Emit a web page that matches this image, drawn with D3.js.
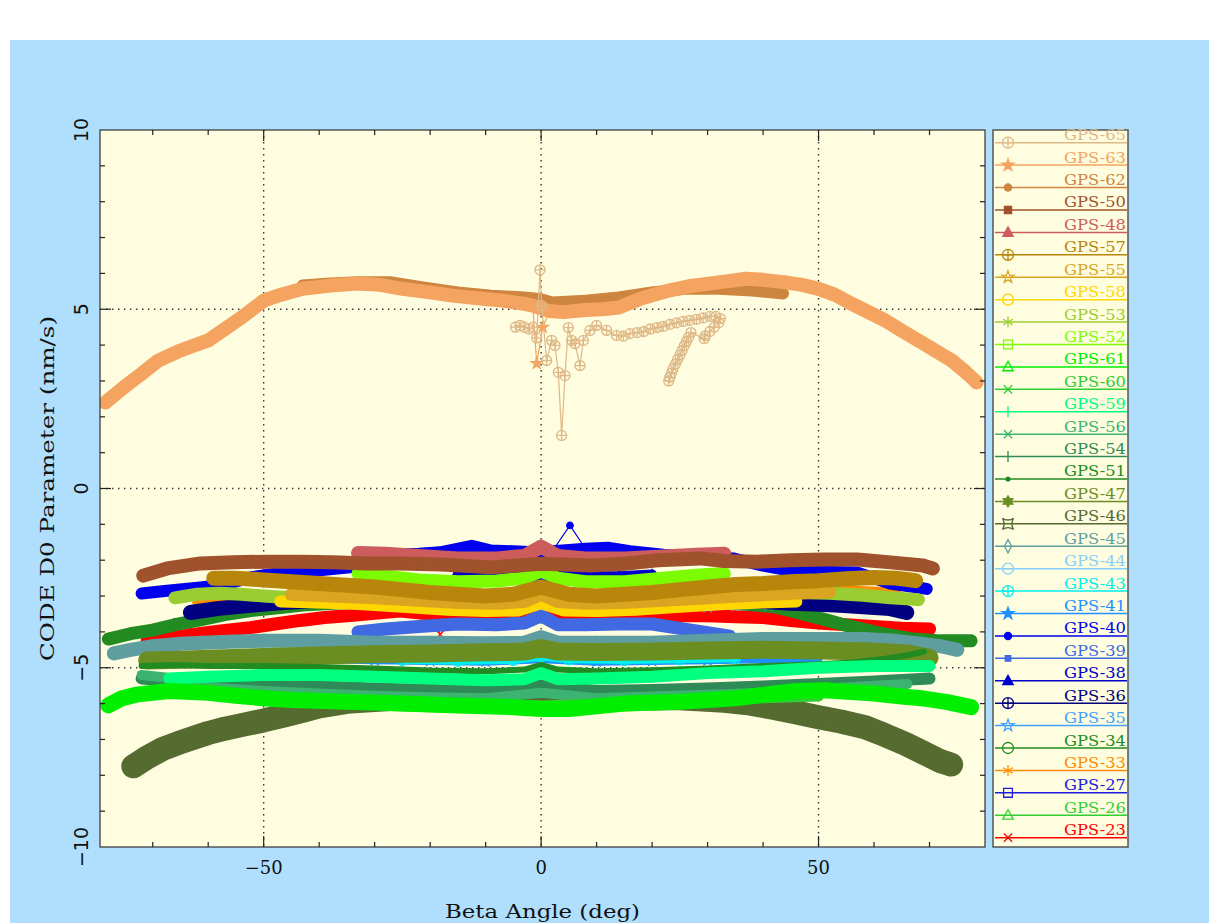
<!DOCTYPE html>
<html>
<head>
<meta charset="utf-8">
<script src="https://cdn.jsdelivr.net/npm/d3@7"></script>
<style>
  body { margin: 0; background: #fff; }
  svg { display: block; }
</style>
</head>
<body>
<div id="chart"></div>
<script>
// legend order, top to bottom
const seriesNames = ["GPS-65","GPS-63","GPS-62","GPS-50","GPS-48","GPS-57","GPS-55","GPS-58","GPS-53","GPS-52",
  "GPS-61","GPS-60","GPS-59","GPS-56","GPS-54","GPS-51","GPS-47","GPS-46","GPS-45","GPS-44","GPS-43","GPS-41",
  "GPS-40","GPS-39","GPS-38","GPS-36","GPS-35","GPS-34","GPS-33","GPS-27","GPS-26","GPS-23"];

const xTicks = [-50, 0, 50];
const yTicks = [-10, -5, 0, 5, 10];

// [beta angle, D0 value]
const gps65 = [[-4.6,4.5],[-3.8,4.55],[-3.0,4.5],[-2.2,4.45],[-1.4,4.5],[-0.8,4.2],[-0.2,6.1],[0.1,5.1],[1.0,3.57],
  [1.9,4.13],[2.5,3.99],[3.1,3.24],[3.7,1.48],[4.3,3.15],[4.9,4.49],[5.5,4.13],[6.1,4.04],[7.0,3.43],[7.6,4.13],
  [8.8,4.41],[10.0,4.55],[11.8,4.41],[13.6,4.27],[14.8,4.25],[16,4.32],[17.3,4.35],[18.5,4.38],[19.7,4.45],
  [20.9,4.49],[22,4.52],[23.2,4.58],[24.4,4.62],[25.6,4.66],[26.8,4.69],[28,4.72],[29.2,4.76],[30.4,4.8],
  [31.5,4.8],[32.3,4.74],[32,4.62],[31.2,4.5],[30.4,4.38],[29.6,4.26],[29.4,4.18],[27,4.35],[26.6,4.22],
  [26.2,4.1],[25.8,3.98],[25.4,3.85],[25,3.72],[24.6,3.6],[24.2,3.47],[23.8,3.35],[23.5,3.22],[23.2,3.1],[23,3.0]];
const gps63 = [[-78.5,2.4],[-75,2.85],[-72,3.2],[-69,3.57],[-65,3.85],[-60,4.13],[-57,4.45],[-54,4.77],[-50,5.24],
  [-47,5.4],[-43,5.57],[-38,5.66],[-33,5.72],[-29,5.68],[-25,5.57],[-20,5.47],[-16,5.38],[-11,5.3],[-7,5.24],
  [-3,5.15],[-1.5,5.1],[1.5,4.95],[4,4.92],[8,4.98],[11,5.0],[14,5.05],[18,5.3],[23,5.52],[27,5.65],[32,5.75],
  [37,5.85],[40,5.82],[44,5.75],[47,5.68],[50,5.57],[53,5.4],[56,5.15],[59,4.92],[62,4.69],[65,4.4],[68,4.13],
  [71,3.85],[74,3.57],[76.5,3.25],[78.5,2.96]];
const gps63Spikes = [[-0.8,3.49],[0.3,4.5]];
const gps62 = [[-43,5.66],[-38,5.72],[-33,5.75],[-27,5.75],[-21,5.6],[-15,5.47],[-9,5.38],[-3,5.33],[0,5.28],
  [2,5.19],[8,5.24],[14,5.33],[20,5.47],[26,5.57],[32,5.57],[38,5.52],[43.6,5.44]];
const gps50 = [[-71.7,-2.43],[-67.4,-2.23],[-61.4,-2.09],[-55.5,-2.06],[-49.4,-2.04],[-43.4,-2.04],[-37.5,-2.06],
  [-31.4,-2.09],[-25.4,-2.09],[-18,-2.12],[-9,-2.2],[0,-2.1],[9,-2.15],[15,-2.1],[21,-2.0],[28.6,-1.95],[33,-2.02],
  [39,-2.04],[45,-2.0],[51,-1.98],[57,-1.98],[63,-2.06],[68.8,-2.15],[70.6,-2.23]];
const gps48 = [[-33,-1.8],[-28,-1.82],[-22,-1.88],[-15,-1.95],[-8,-1.95],[-3,-1.88],[0,-1.62],[3,-1.88],[8,-1.95],
  [15,-1.95],[22,-1.9],[28,-1.85],[33,-1.82]];
const gps57 = [[-59,-2.5],[-55,-2.5],[-50,-2.55],[-45,-2.6],[-40,-2.65],[-35,-2.7],[-30,-2.75],[-25,-2.82],[-20,-2.9],
  [-15,-2.95],[-10,-3.0],[-5,-2.95],[0,-2.75],[5,-2.95],[10,-3.0],[15,-2.95],[20,-2.9],[25,-2.82],[30,-2.75],
  [35,-2.68],[40,-2.65],[45,-2.6],[50,-2.57],[55,-2.52],[60,-2.48],[64,-2.5],[67.5,-2.57]];
const gps55 = [[-45,-2.95],[-38,-3.0],[-30,-3.05],[-22,-3.12],[-15,-3.18],[-8,-3.2],[-3,-3.15],[0,-2.95],[3,-3.15],
  [8,-3.2],[15,-3.18],[22,-3.12],[30,-3.05],[38,-2.98],[45,-2.92],[52,-2.88]];
const gps58 = [[-47,-3.15],[-40,-3.18],[-33,-3.22],[-25,-3.3],[-17,-3.38],[-10,-3.42],[-4,-3.4],[0,-3.2],[4,-3.4],
  [10,-3.42],[17,-3.38],[25,-3.3],[33,-3.22],[40,-3.18],[46,-3.15]];
const gps53 = [[-66,-3.05],[-62,-2.95],[-58,-2.92],[-54,-2.95],[-50,-3.0],[-45,-3.05],[-40,-3.05],[-30,-3.05],
  [-20,-3.05],[-10,-3.05],[0,-2.9],[10,-3.05],[20,-3.05],[30,-3.0],[40,-2.92],[46,-2.9],[52,-2.92],[58,-2.98],
  [63,-3.05],[68,-3.1]];
const gps52 = [[-33,-2.37],[-28,-2.45],[-22,-2.55],[-15,-2.6],[-8,-2.58],[-3,-2.5],[0,-2.3],[3,-2.5],[8,-2.6],
  [15,-2.6],[22,-2.5],[28,-2.42],[33,-2.37]];
const gps61 = [[-78,-6.05],[-75.5,-5.85],[-73,-5.75],[-67,-5.65],[-60,-5.7],[-55,-5.78],[-50,-5.85],[-45,-5.9],
  [-35,-5.95],[-25,-6.0],[-15,-6.05],[-5,-6.1],[0,-6.15],[5,-6.15],[15,-6.0],[25,-5.95],[35,-5.85],[42,-5.72],
  [46,-5.65],[51,-5.63],[56,-5.68],[60,-5.72],[65,-5.8],[69,-5.86],[73,-5.95],[77.5,-6.1]];
const gps60 = [[-50,-5.85],[-40,-5.92],[-30,-5.95],[-20,-5.98],[-10,-6.0],[0,-6.05],[10,-6.0],[20,-5.95],[30,-5.9],
  [40,-5.85],[50,-5.8]];
const gps59 = [[-67,-5.3],[-60,-5.25],[-50,-5.2],[-40,-5.2],[-30,-5.25],[-20,-5.3],[-10,-5.35],[-3,-5.32],[0,-5.15],
  [3,-5.32],[10,-5.3],[20,-5.25],[30,-5.15],[40,-5.1],[50,-5.0],[60,-4.95],[70,-4.95]];
const gps56 = [[-72,-5.2],[-66,-5.3],[-60,-5.55],[-50,-5.65],[-40,-5.72],[-30,-5.78],[-20,-5.82],[-10,-5.85],
  [0,-5.7],[10,-5.85],[20,-5.8],[30,-5.75],[40,-5.7],[50,-5.6],[60,-5.5],[66,-5.45]];
const gps54 = [[-72,-5.3],[-66,-5.38],[-60,-5.42],[-50,-5.48],[-40,-5.52],[-30,-5.58],[-20,-5.62],[-10,-5.65],
  [0,-5.5],[10,-5.65],[20,-5.62],[30,-5.58],[40,-5.52],[50,-5.45],[60,-5.38],[70,-5.3]];
const gps51 = [[-72,-4.95],[-66,-4.92],[-60,-4.95],[-50,-4.95],[-40,-4.98],[-30,-5.02],[-20,-5.08],[-10,-5.1],
  [-3,-5.05],[0,-4.92],[3,-5.05],[10,-5.1],[20,-5.07],[30,-5.02],[40,-4.95],[50,-4.9],[56,-4.85],[62,-4.75],
  [66,-4.65],[69,-4.55]];
const gps47 = [[-71,-4.8],[-65,-4.78],[-60,-4.75],[-50,-4.7],[-40,-4.66],[-30,-4.62],[-20,-4.6],[-10,-4.57],
  [-3,-4.55],[0,-4.45],[3,-4.55],[10,-4.56],[20,-4.55],[30,-4.52],[40,-4.5],[50,-4.52],[60,-4.55],[66,-4.6],[70,-4.72]];
const gps46 = [[-73.5,-7.75],[-71,-7.5],[-68,-7.25],[-65,-7.08],[-62,-6.92],[-60,-6.82],[-57,-6.7],[-54,-6.6],
  [-50,-6.47],[-46,-6.32],[-43,-6.2],[-40,-6.08],[-35,-5.95],[-25,-5.85],[-15,-5.85],[-5,-5.9],[0,-5.95],[5,-5.9],
  [15,-5.85],[25,-5.85],[33,-5.92],[37.7,-6.0],[42,-6.12],[46,-6.25],[50,-6.38],[54,-6.5],[58.4,-6.66],
  [62,-6.88],[65.6,-7.12],[69,-7.38],[71.9,-7.6],[73.9,-7.7]];
const gps45 = [[-77,-4.6],[-74,-4.5],[-70,-4.4],[-65,-4.33],[-61,-4.3],[-55,-4.27],[-50,-4.25],[-40,-4.25],
  [-30,-4.3],[-20,-4.3],[-10,-4.32],[-3,-4.3],[0,-4.15],[3,-4.3],[10,-4.3],[20,-4.3],[30,-4.25],[40,-4.2],
  [50,-4.2],[58,-4.2],[64,-4.25],[68,-4.32],[72,-4.4],[75,-4.5]];
const gps44 = [[-40,-4.35],[-30,-4.35],[-20,-4.38],[-10,-4.4],[0,-4.25],[10,-4.4],[20,-4.38],[30,-4.35],[40,-4.32]];
const gps43 = [[-25,-4.8],[-15,-4.82],[-5,-4.8],[0,-4.7],[5,-4.78],[15,-4.8],[25,-4.78],[35,-4.75]];
const gps43Spikes = [[-0.7,-4.15]];
const gps41 = [[-47,-4.75],[-40,-4.75],[-30,-4.78],[-20,-4.8],[-10,-4.82],[0,-4.75],[10,-4.82],[20,-4.8],
  [30,-4.78],[40,-4.75],[50,-4.72]];
const gps40 = [[-72,-2.93],[-67.4,-2.85],[-61.4,-2.76],[-57,-2.68],[-52.4,-2.48],[-46.5,-2.34],[-40.4,-2.29],
  [-34.4,-2.2],[-27.2,-1.85],[-22,-1.82],[-18.2,-1.78],[-12.5,-1.6],[-9,-1.73],[-5,-1.75],[-1.4,-1.78],[2,-1.75],
  [8,-1.68],[12,-1.65],[16,-1.75],[22,-1.85],[28,-1.9],[34.6,-1.95],[40,-2.15],[44.9,-2.29],[50,-2.32],
  [56.9,-2.34],[60,-2.5],[62.9,-2.65],[66,-2.72],[69.5,-2.8]];
const gps40Spikes = [[5.2,-1.03]];
const gps39 = [[-33,-4.0],[-28,-3.92],[-22,-3.85],[-15,-3.78],[-8,-3.8],[-3,-3.75],[0,-3.55],[3,-3.8],[8,-3.8],
  [14,-3.78],[20,-3.78],[25,-3.9],[30,-4.02],[34,-4.12]];
const gps38 = [[-15,-2.3],[-8,-2.35],[-3,-2.4],[0,-2.3],[3,-2.4],[8,-2.45],[14,-2.45],[20,-2.4]];
const gps36 = [[-63.2,-3.46],[-58.4,-3.35],[-52.4,-3.26],[-46.5,-3.18],[-40,-3.12],[-30,-3.1],[-15,-3.1],[0,-3.05],
  [15,-3.1],[30,-3.12],[40,-3.15],[44.9,-3.2],[49,-3.22],[53.9,-3.26],[58,-3.3],[62.9,-3.35],[65.9,-3.46]];
const gps35 = [[-20,-3.35],[-10,-3.35],[0,-3.25],[10,-3.35],[20,-3.35],[30,-3.3],[35,-3.26],[41,-3.25]];
const gps34 = [[-78,-4.2],[-74,-4.05],[-70,-3.95],[-66,-3.8],[-61,-3.65],[-57,-3.52],[-52,-3.4],[-47,-3.32],
  [-43,-3.25],[-35,-3.18],[-25,-3.15],[-15,-3.15],[0,-3.1],[15,-3.15],[25,-3.15],[35,-3.2],[42,-3.3],[46,-3.45],
  [51,-3.65],[55,-3.82],[60,-4.0],[64,-4.12],[67,-4.2],[72,-4.25],[77.5,-4.25]];
const gps33 = [[-62,-3.15],[-58,-3.12],[-54,-3.1],[-48,-3.05],[-40,-3.05],[-30,-3.05],[0,-3.0],[30,-2.95],
  [45,-2.9],[50,-2.85],[56,-2.85],[61,-2.88],[64,-2.9]];
const gps27 = [[-30,-2.5],[-20,-2.55],[-10,-2.6],[0,-2.45],[10,-2.6],[20,-2.55],[30,-2.5]];
const gps26 = [[-40,-6.0],[-30,-6.05],[-20,-6.1],[-10,-6.12],[0,-6.2],[10,-6.1],[20,-6.05],[30,-6.0],[40,-5.95]];
const gps23 = [[-71,-4.25],[-66,-4.15],[-61.4,-4.04],[-57,-3.96],[-52.4,-3.88],[-48,-3.78],[-43.4,-3.68],[-39,-3.6],
  [-34.4,-3.54],[-30,-3.48],[-25.4,-3.42],[-20,-3.5],[-15,-3.55],[-10,-3.55],[-5,-3.55],[-2,-3.5],[0,-3.4],
  [2,-3.55],[5,-3.65],[10,-3.58],[15,-3.55],[20,-3.55],[25,-3.55],[30,-3.55],[35,-3.58],[40,-3.6],[45,-3.68],
  [50,-3.75],[55,-3.8],[60,-3.85],[65,-3.9],[70,-3.92]];
const gps23Spikes = [[-65.6,-3.72],[-18.2,-4.07]];

const seriesData = new Map([
  ["GPS-65", gps65], ["GPS-63", gps63], ["GPS-62", gps62], ["GPS-50", gps50], ["GPS-48", gps48],
  ["GPS-57", gps57], ["GPS-55", gps55], ["GPS-58", gps58], ["GPS-53", gps53], ["GPS-52", gps52],
  ["GPS-61", gps61], ["GPS-60", gps60], ["GPS-59", gps59], ["GPS-56", gps56], ["GPS-54", gps54],
  ["GPS-51", gps51], ["GPS-47", gps47], ["GPS-46", gps46], ["GPS-45", gps45], ["GPS-44", gps44],
  ["GPS-43", gps43], ["GPS-41", gps41], ["GPS-40", gps40], ["GPS-39", gps39], ["GPS-38", gps38],
  ["GPS-36", gps36], ["GPS-35", gps35], ["GPS-34", gps34], ["GPS-33", gps33], ["GPS-27", gps27],
  ["GPS-26", gps26], ["GPS-23", gps23]
]);
const seriesSpikes = new Map([
  ["GPS-63", gps63Spikes], ["GPS-43", gps43Spikes], ["GPS-40", gps40Spikes], ["GPS-23", gps23Spikes]
]);

// colour, marker, band thickness (px)
const styles = {
  "GPS-65": { color: "#deb887", marker: "oplus", band: 0 },
  "GPS-63": { color: "#f4a460", marker: "star", band: 14 },
  "GPS-62": { color: "#cd853f", marker: "dot", band: 12 },
  "GPS-50": { color: "#a0522d", marker: "square", band: 14 },
  "GPS-48": { color: "#cd5c5c", marker: "triangle", band: 14 },
  "GPS-57": { color: "#b8860b", marker: "oplus", band: 15 },
  "GPS-55": { color: "#daa520", marker: "ostar", band: 13 },
  "GPS-58": { color: "#ffd700", marker: "ocircle", band: 12 },
  "GPS-53": { color: "#9acd32", marker: "asterisk", band: 13 },
  "GPS-52": { color: "#7cfc00", marker: "osquare", band: 13 },
  "GPS-61": { color: "#00ee00", marker: "otriangle", band: 16 },
  "GPS-60": { color: "#32cd32", marker: "x", band: 10 },
  "GPS-59": { color: "#00ff7f", marker: "vbar", band: 12 },
  "GPS-56": { color: "#3cb371", marker: "x", band: 10 },
  "GPS-54": { color: "#2e8b57", marker: "vbar", band: 12 },
  "GPS-51": { color: "#228b22", marker: "smalldot", band: 6 },
  "GPS-47": { color: "#6b8e23", marker: "hexagram", band: 18 },
  "GPS-46": { color: "#556b2f", marker: "concave", band: 24 },
  "GPS-45": { color: "#5f9ea0", marker: "odiamond", band: 14 },
  "GPS-44": { color: "#87cefa", marker: "ominus", band: 8 },
  "GPS-43": { color: "#00eeee", marker: "oplus", band: 7 },
  "GPS-41": { color: "#1e90ff", marker: "star", band: 9 },
  "GPS-40": { color: "#0000ee", marker: "dot", band: 12 },
  "GPS-39": { color: "#4169e1", marker: "smallsquare", band: 13 },
  "GPS-38": { color: "#0000cd", marker: "triangle", band: 10 },
  "GPS-36": { color: "#000080", marker: "oplus", band: 15 },
  "GPS-35": { color: "#40a0ff", marker: "ostar", band: 8 },
  "GPS-34": { color: "#228b22", marker: "ocircle", band: 13 },
  "GPS-33": { color: "#ff8c00", marker: "asterisk", band: 10 },
  "GPS-27": { color: "#1c1cdc", marker: "osquare", band: 10 },
  "GPS-26": { color: "#32cd32", marker: "otriangle", band: 10 },
  "GPS-23": { color: "#ff0000", marker: "x", band: 13 }
};

const W = 1209, H = 923;
const plot = { left: 100, right: 985, top: 130, bottom: 847 };
const legendBox = { left: 993, right: 1128 };

const svg = d3.select("#chart").append("svg")
  .attr("width", W).attr("height", H);

svg.append("rect").attr("x", 10).attr("y", 40).attr("width", W - 10).attr("height", H - 40)
  .attr("fill", "#afdffc");

const x = d3.scaleLinear().domain([-79.5, 80]).range([plot.left, plot.right]);
const y = d3.scaleLinear().domain([-10, 10]).range([plot.bottom, plot.top]);

svg.append("rect")
  .attr("x", plot.left).attr("y", plot.top)
  .attr("width", plot.right - plot.left).attr("height", plot.bottom - plot.top)
  .attr("fill", "#fffde0");

svg.append("clipPath").attr("id", "plotclip").append("rect")
  .attr("x", plot.left).attr("y", plot.top)
  .attr("width", plot.right - plot.left).attr("height", plot.bottom - plot.top);

// dotted grid
const grid = svg.append("g").attr("stroke", "#333").attr("stroke-width", 1.4)
  .attr("stroke-dasharray", "1.4 4.6");
grid.selectAll("line.gx").data(xTicks).join("line")
  .attr("x1", d => x(d)).attr("x2", d => x(d)).attr("y1", plot.top).attr("y2", plot.bottom);
grid.selectAll("line.gy").data([-5, 0, 5]).join("line")
  .attr("y1", d => y(d)).attr("y2", d => y(d)).attr("x1", plot.left).attr("x2", plot.right);

// markers
function circlePath(r) {
  return `M${-r},0A${r},${r} 0 1,0 ${r},0A${r},${r} 0 1,0 ${-r},0Z`;
}
function starPath(ro, ri) {
  let s = "";
  for (let k = 0; k < 10; k++) {
    const a = -Math.PI / 2 + k * Math.PI / 5;
    const rr = k % 2 ? ri : ro;
    s += (k ? "L" : "M") + (rr * Math.cos(a)).toFixed(2) + "," + (rr * Math.sin(a)).toFixed(2);
  }
  return s + "Z";
}
function markerShape(type, r) {
  const c = 0.87 * r, h = 0.5 * r;
  switch (type) {
    case "oplus": return { d: circlePath(r) + `M${-r},0H${r}M0,${-r}V${r}`, fill: false };
    case "ominus": return { d: circlePath(r) + `M${-r},0H${r}`, fill: false };
    case "ocircle": return { d: circlePath(r), fill: false };
    case "dot": return { d: circlePath(r * 0.65), fill: true };
    case "smalldot": return { d: circlePath(r * 0.35), fill: true };
    case "square": { const s = r * 0.65; return { d: `M${-s},${-s}H${s}V${s}H${-s}Z`, fill: true }; }
    case "smallsquare": { const s = r * 0.5; return { d: `M${-s},${-s}H${s}V${s}H${-s}Z`, fill: true }; }
    case "osquare": { const s = r * 0.8; return { d: `M${-s},${-s}H${s}V${s}H${-s}Z`, fill: false }; }
    case "triangle": return { d: `M0,${-r}L${r * 0.95},${r * 0.7}L${-r * 0.95},${r * 0.7}Z`, fill: true };
    case "otriangle": return { d: `M0,${-r}L${r * 0.95},${r * 0.7}L${-r * 0.95},${r * 0.7}Z`, fill: false };
    case "star": return { d: starPath(r * 1.15, r * 0.45), fill: true };
    case "ostar": return { d: starPath(r * 1.15, r * 0.45), fill: false };
    case "asterisk": return { d: `M0,${-r}V${r}M${-c},${-h}L${c},${h}M${-c},${h}L${c},${-h}`, fill: false };
    case "x": { const s = r * 0.75; return { d: `M${-s},${-s}L${s},${s}M${-s},${s}L${s},${-s}`, fill: false }; }
    case "vbar": return { d: `M0,${-r}V${r}`, fill: false };
    case "hexagram": return { d: `M0,${-r}L${c},${h}L${-c},${h}ZM0,${r}L${-c},${-h}L${c},${-h}Z`, fill: true };
    case "concave": return { d: `M${-r},${-r}Q0,${-r * 0.4} ${r},${-r}Q${r * 0.4},0 ${r},${r}Q0,${r * 0.4} ${-r},${r}Q${-r * 0.4},0 ${-r},${-r}Z`, fill: false };
    case "odiamond": return { d: `M0,${-r * 1.2}L${r * 0.65},0L0,${r * 1.2}L${-r * 0.65},0Z`, fill: false };
  }
  return { d: circlePath(r), fill: false };
}

const line = d3.line().x(d => x(d[0])).y(d => y(d[1]));
const plotArea = svg.append("g").attr("clip-path", "url(#plotclip)");

// plotted from the bottom of the legend upward
seriesNames.slice().reverse().forEach(name => {
  const st = styles[name];
  const main = seriesData.get(name);
  const spikes = seriesSpikes.get(name);
  const all = spikes ? main.concat(spikes).sort((a, b) => a[0] - b[0]) : main;
  const g = plotArea.append("g").attr("class", "series");
  if (st.band > 0) {
    g.append("path").attr("d", line(main)).attr("fill", "none")
      .attr("stroke", st.color).attr("stroke-width", st.band)
      .attr("stroke-linejoin", "round").attr("stroke-linecap", "round");
  }
  g.append("path").attr("d", line(all)).attr("fill", "none")
    .attr("stroke", st.color).attr("stroke-width", 1.2);
  const shape = markerShape(st.marker, 5);
  g.selectAll("path.mk").data(all).join("path").attr("class", "mk")
    .attr("transform", d => `translate(${x(d[0])},${y(d[1])})`)
    .attr("d", shape.d)
    .attr("fill", shape.fill ? st.color : "none")
    .attr("stroke", st.color).attr("stroke-width", 1.3);
});

// frame and ticks
svg.append("rect")
  .attr("x", plot.left).attr("y", plot.top)
  .attr("width", plot.right - plot.left).attr("height", plot.bottom - plot.top)
  .attr("fill", "none").attr("stroke", "#333").attr("stroke-width", 1.2);

const ticks = svg.append("g").attr("stroke", "#222").attr("stroke-width", 1.2);
const xMinor = d3.range(-70, 71, 10);
ticks.selectAll("line.xb").data(xMinor).join("line").attr("class", "xb")
  .attr("x1", d => x(d)).attr("x2", d => x(d))
  .attr("y1", plot.bottom).attr("y2", d => plot.bottom - (d % 50 === 0 ? 11 : 5));
ticks.selectAll("line.xt").data(xMinor).join("line").attr("class", "xt")
  .attr("x1", d => x(d)).attr("x2", d => x(d))
  .attr("y1", plot.top).attr("y2", d => plot.top + (d % 50 === 0 ? 11 : 5));
const yMinor = d3.range(-9, 10, 1);
ticks.selectAll("line.yl").data(yMinor).join("line").attr("class", "yl")
  .attr("y1", d => y(d)).attr("y2", d => y(d))
  .attr("x1", plot.left).attr("x2", d => plot.left + (d % 5 === 0 ? 11 : 5));
ticks.selectAll("line.yr").data(yMinor).join("line").attr("class", "yr")
  .attr("y1", d => y(d)).attr("y2", d => y(d))
  .attr("x1", plot.right).attr("x2", d => plot.right - (d % 5 === 0 ? 11 : 5));

const fmt = d => (d < 0 ? "\u2212" + Math.abs(d) : String(d));

svg.selectAll("text.xtick").data(xTicks).join("text").attr("class", "xtick")
  .attr("x", d => x(d)).attr("y", 874)
  .attr("text-anchor", "middle")
  .style("font-family", "'DejaVu Serif'").style("font-size", "18px").attr("fill", "#111")
  .text(fmt);

svg.selectAll("text.ytick").data(yTicks).join("text").attr("class", "ytick")
  .attr("transform", d => `translate(88,${y(d)}) rotate(-90)`)
  .attr("text-anchor", "middle")
  .style("font-family", "'DejaVu Sans'").style("font-size", "19px").attr("fill", "#111")
  .text(fmt);

svg.append("text")
  .attr("x", (plot.left + plot.right) / 2).attr("y", 918)
  .attr("text-anchor", "middle")
  .attr("textLength", 195).attr("lengthAdjust", "spacingAndGlyphs")
  .style("font-family", "'DejaVu Serif'").style("font-size", "19px").attr("fill", "#111")
  .text("Beta Angle (deg)");

svg.append("text")
  .attr("transform", `translate(54,${(plot.top + plot.bottom) / 2}) rotate(-90)`)
  .attr("text-anchor", "middle")
  .attr("textLength", 345).attr("lengthAdjust", "spacingAndGlyphs")
  .style("font-family", "'DejaVu Serif'").style("font-size", "19px").attr("fill", "#111")
  .text("CODE D0 Parameter (nm/s)");

// legend
const legend = svg.append("g");
legend.append("rect")
  .attr("x", legendBox.left).attr("y", plot.top)
  .attr("width", legendBox.right - legendBox.left).attr("height", plot.bottom - plot.top)
  .attr("fill", "#fffde0").attr("stroke", "#555").attr("stroke-width", 1.5);

const ly = d3.scalePoint().domain(seriesNames).range([142.7, 837.7]);
const items = legend.selectAll("g.item").data(seriesNames).join("g").attr("class", "item")
  .attr("transform", d => `translate(0,${ly(d)})`);
items.append("line")
  .attr("x1", legendBox.left + 2).attr("x2", legendBox.right - 1).attr("y1", 0).attr("y2", 0)
  .attr("stroke", d => styles[d].color).attr("stroke-width", 1.5);
items.append("path")
  .attr("transform", "translate(1008,0)")
  .attr("d", d => markerShape(styles[d].marker, 5.5).d)
  .attr("fill", d => markerShape(styles[d].marker, 5.5).fill ? styles[d].color : "none")
  .attr("stroke", d => styles[d].color).attr("stroke-width", 1.3);
items.append("text")
  .attr("x", legendBox.right - 2).attr("y", -2.5)
  .attr("text-anchor", "end")
  .attr("textLength", 62).attr("lengthAdjust", "spacingAndGlyphs")
  .style("font-family", "'DejaVu Serif'").style("font-size", "14px")
  .attr("fill", d => styles[d].color)
  .text(d => d);
</script>
</body>
</html>
